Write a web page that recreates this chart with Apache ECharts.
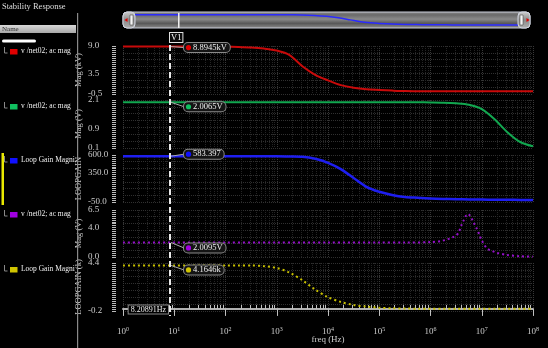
<!DOCTYPE html>
<html><head><meta charset="utf-8">
<script src="https://cdn.jsdelivr.net/npm/echarts@6/dist/echarts.min.js"></script>
<style>html,body{margin:0;padding:0;background:#000;}#c{width:548px;height:348px;}</style>
</head><body><div id="c"></div>
<script>
// ---------------- data ----------------
const freq = [1, 1.778, 3.162, 5.623, 10, 17.78, 31.62, 56.23, 100, 177.8, 316.2, 562.3,
  1000, 1778, 3162, 5623, 10000, 17783, 31623, 56234, 100000, 177828, 316228, 562341,
  1000000, 1778279, 3162278, 5623413, 10000000, 17782794, 31622777, 56234133, 100000000];
const redMag = [8.8945, 8.8945, 8.8945, 8.8944, 8.8943, 8.894, 8.893, 8.89, 8.87, 8.82, 8.72, 8.5,
  8.1, 7.2, 5.0, 3.3, 2.2, 1.25, 0.72, 0.43, 0.3, 0.18, 0.08, 0.04,
  0.03, 0.02, 0.02, 0.02, 0.02, 0.02, 0.02, 0.02, 0.02];
const greenMag = [2.0065, 2.0065, 2.0065, 2.0065, 2.0065, 2.0065, 2.0065, 2.0065, 2.0065, 2.0065, 2.0065, 2.0065,
  2.0065, 2.0065, 2.0065, 2.0065, 2.0065, 2.0065, 2.0065, 2.0065, 2.0065, 2.0065, 2.0065, 2.005,
  2.0, 1.99, 1.96, 1.9, 1.72, 1.3, 0.76, 0.35, 0.17];
const blueGain = [583.397, 583.397, 583.397, 583.397, 583.397, 583.397, 583.397, 583.397, 583.397, 583.397, 583.397, 583.3,
  583, 580, 575, 547, 492, 405, 282, 160, 92, 48, 20, 8,
  -2, -8, -12, -15, -17, -19, -20, -21, -22];
const yellowGain = [4.1646, 4.1646, 4.1646, 4.1646, 4.1646, 4.1646, 4.1646, 4.1646, 4.1646, 4.1646, 4.1646, 4.1,
  3.92, 3.48, 2.75, 1.85, 1.12, 0.67, 0.38, 0.22, 0.11, 0.06, 0.04, 0.02,
  0.02, 0.02, 0.02, 0.02, 0.02, 0.02, 0.02, 0.02, 0.02];
const purpleFreq = [1, 10, 100, 1000, 10000, 100000, 316228, 1000000, 1585000, 1995000, 2512000, 3162000,
  3548000, 3981000, 4467000, 5012000, 5370000, 5754000, 6310000, 7079000, 7943000, 8913000,
  10000000, 12590000, 15850000, 19950000, 31620000, 56230000, 100000000];
const purpleMag = [2.0095, 2.0095, 2.0095, 2.0095, 2.0095, 2.0095, 2.0, 2.06, 2.2, 2.38, 2.62, 3.0,
  3.4, 4.35, 5.1, 5.8, 5.95, 5.8, 5.35, 4.65, 3.95, 3.15,
  2.3, 1.2, 0.85, 0.57, 0.27, 0.11, 0.05];

const cursorFreq = 8.20891;
const cursorName = 'V1';
const cursorValues = [8.8945, 2.0065, 583.397, 2.0095, 4.1646];
const cursorLabels = ['8.8945kV', '2.0065V', '583.397', '2.0095V', '4.1646k'];

const legendNames = ['v /net02; ac mag', 'v /net02; ac mag', 'Loop Gain Magni', 'v /net02; ac mag', 'Loop Gain Magni'];
const yNames = ['Mag (kV)', 'Mag (V)', 'LOOPGAIN', 'Mag (V)', 'LOOPGAIN (k)'];
const yMins = [-0.5, 0.1, -50, 0.0, -0.2];
const yMaxs = [9.0, 2.1, 600, 6.5, 4.4];
const yMidLabels = [3.5, 0.9, 350, 4.0, null];
const xDecades = [1, 10, 100, 1e3, 1e4, 1e5, 1e6, 1e7, 1e8];
const titleText = 'Stability Response';
const xName = 'freq (Hz)';

// ---------------- layout / style ----------------
const FONT = 'Liberation Serif';
const seriesX = [freq, freq, freq, purpleFreq, freq];
const seriesY = [redMag, greenMag, blueGain, purpleMag, yellowGain];
const colors = ['#c80a0a', '#12a850', '#1e1ef0', '#9410c8', '#c8c000'];
const legendColors = ['#e00000', '#10c060', '#1010ff', '#a000e0', '#d0c400'];
const dotted = [false, false, false, true, true];
const panelTop = [46, 100, 155, 210, 263];
const panelH = [48, 48, 47, 47, 48];
const boxDy = [1, 4.5, -2, 5.5, 4.5];
const legendY = [52, 107, 161, 215, 270];

const minorX = [];
xDecades.slice(0, -1).forEach(d => { for (let k = 2; k <= 9; k++) minorX.push(d * k); });

function evenTicks(min, max, n) { const a = []; for (let i = 0; i <= n; i++) a.push(min + (max - min) * i / n); return a; }

const chart = echarts.init(document.getElementById('c'));
const grids = [], xAxes = [], yAxes = [], series = [];
for (let i = 0; i < 5; i++) {
  grids.push({ left: 123, width: 410, top: panelTop[i], height: panelH[i] });
  const last = i === 4;
  xAxes.push({
    type: 'log', gridIndex: i, min: 1, max: 1e8, offset: last ? 5 : 0,
    name: last ? xName : '', nameLocation: 'middle', nameGap: 19, nameMoveOverlap: false,
    nameTextStyle: { color: '#ccc', fontFamily: FONT, fontSize: 9 },
    axisLine: { show: last, lineStyle: { color: '#b0b0b0', width: 2 } },
    axisTick: { show: last, length: 7, customValues: xDecades, lineStyle: { color: '#c0c0c0' } },
    axisLabel: {
      show: last, customValues: xDecades, margin: 10, color: '#ccc',
      formatter: v => '10{s|' + Math.round(Math.log10(v)) + '}',
      rich: { s: { fontSize: 6, fontFamily: FONT, color: '#ccc', padding: [0, 0, 6, 0] } },
      fontFamily: FONT, fontSize: 9
    },
    splitLine: { show: true, lineStyle: { color: '#383838', type: 'dotted', width: 1 } }
  });
  xAxes.push({
    type: 'log', gridIndex: i, min: 1, max: 1e8, offset: last ? 5 : 0,
    axisLine: { show: false },
    axisTick: { show: last, length: 4, customValues: minorX, lineStyle: { color: '#c0c0c0' } },
    axisLabel: { show: false },
    splitLine: { show: true, lineStyle: { color: '#242424', type: 'dotted', width: 1 } }
  });
  const labs = [yMins[i], yMaxs[i]];
  if (yMidLabels[i] !== null) labs.splice(1, 0, yMidLabels[i]);
  yAxes.push({
    type: 'value', gridIndex: i, min: yMins[i], max: yMaxs[i], offset: 7,
    name: yNames[i], nameLocation: 'middle', nameGap: 33, nameMoveOverlap: false,
    nameTextStyle: { color: '#ccc', fontFamily: FONT, fontSize: 8.5 },
    axisLine: { show: false },
    axisTick: { show: true, length: 4, customValues: evenTicks(yMins[i], yMaxs[i], Math.round(panelH[i] / 2)), lineStyle: { color: '#bbb' } },
    axisLabel: { customValues: labs, margin: 28, align: 'left', color: '#ccc', fontFamily: FONT, fontSize: 9, formatter: v => v.toFixed(1) },
    splitLine: { show: false }
  });
  yAxes.push({
    type: 'value', gridIndex: i, min: yMins[i], max: yMaxs[i],
    axisLine: { show: false },
    axisTick: { show: false, customValues: evenTicks(yMins[i], yMaxs[i], 7) },
    axisLabel: { show: false },
    splitLine: { show: true, lineStyle: { color: '#303030', type: 'dotted', width: 1 } }
  });
  series.push({
    type: 'line', xAxisIndex: 2 * i, yAxisIndex: 2 * i, showSymbol: false, smooth: 0.3,
    data: seriesX[i].map((f, k) => [f, seriesY[i][k]]),
    lineStyle: dotted[i] ? { color: colors[i], width: 2, type: [2, 3] } : { color: colors[i], width: i === 2 ? 2.5 : 2 },
    z: 5
  });
}
// overview grid
grids.push({ left: 135, width: 383, top: 14.5, height: 11 });
xAxes.push({ type: 'log', gridIndex: 5, min: 1, max: 1e8, show: false, splitLine: { show: false } });
yAxes.push({ type: 'value', gridIndex: 5, min: -50, max: 600, show: false, splitLine: { show: false } });
series.push({ type: 'line', xAxisIndex: 10, yAxisIndex: 10, showSymbol: false, smooth: 0.3,
  data: freq.map((f, k) => [f, blueGain[k]]), lineStyle: { color: '#2a2aff', width: 1.5 }, z: 5 });

chart.setOption({
  backgroundColor: '#000', animation: false,
  grid: grids, xAxis: xAxes, yAxis: yAxes, series: series
});

// ---------------- graphics (positions via library conversion) ----------------
const g = [];
const txt = (x, y, text, o) => Object.assign({ type: 'text', x: x, y: y, z: 60,
  style: Object.assign({ text: text, fill: '#e0e0e0', font: '8px ' + FONT }, o || {}) });
// title & left panel
g.push(txt(2, 2, titleText, { font: '8.5px ' + FONT, fill: '#ddd' }));
g.push({ type: 'rect', shape: { x: 0, y: 25, width: 76, height: 8 }, style: { fill: new echarts.graphic.LinearGradient(0, 0, 0, 1, [{ offset: 0, color: '#d8d8d8' }, { offset: 1, color: '#a8a8a8' }]) }, z: 60 });
g.push(txt(2, 25.5, 'Name', { fill: '#333', font: '7px ' + FONT }));
g.push({ type: 'rect', shape: { x: 2, y: 39.5, width: 34, height: 3, r: 1.5 }, style: { fill: '#fff' }, z: 60 });
for (let i = 0; i < 5; i++) {
  const y = legendY[i];
  g.push({ type: 'polyline', shape: { points: [[4.5, y - 5], [4.5, y + 1], [7.5, y + 1]] }, style: { stroke: '#888', lineWidth: 1, fill: null }, z: 60 });
  g.push({ type: 'rect', shape: { x: 10, y: y - 3, width: 7.5, height: 5.5 }, style: { fill: legendColors[i] }, z: 60 });
  g.push(txt(21, y - 4.5, legendNames[i], { fill: '#f0f0f0', font: '7.5px ' + FONT }));
}
g.push({ type: 'rect', shape: { x: 1.5, y: 153, width: 2.5, height: 52 }, style: { fill: '#e8e800' }, z: 60 });
g.push({ type: 'rect', shape: { x: 77, y: 13, width: 1.2, height: 335 }, style: { fill: '#8a8a8a' }, z: 61 });

// overview scrollbar
g.push({ type: 'rect', shape: { x: 123, y: 12, width: 407, height: 16, r: 4 }, z: 1,
  style: { stroke: '#c8ccd8', lineWidth: 1, fill: new echarts.graphic.LinearGradient(0, 0, 0, 1, [
    { offset: 0, color: '#8c8c8c' }, { offset: 0.2, color: '#6a6a6a' }, { offset: 0.45, color: '#8a8a8a' },
    { offset: 0.7, color: '#585858' }, { offset: 1, color: '#909090' }]) } });
[[123, 12], [518, 12]].forEach(p => {
  g.push({ type: 'rect', shape: { x: p[0], y: p[1], width: 12, height: 16, r: 4 }, z: 10,
    style: { stroke: '#d0d4e0', lineWidth: 1, fill: new echarts.graphic.LinearGradient(0, 0, 0, 1, [
      { offset: 0, color: '#d0d0d0' }, { offset: 0.5, color: '#8a8a8a' }, { offset: 1, color: '#b0b0b0' }]) } });
});
g.push({ type: 'rect', shape: { x: 130, y: 15, width: 3, height: 10 }, style: { fill: '#f4f4f4', stroke: '#333', lineWidth: 0.5 }, z: 11 });
g.push({ type: 'rect', shape: { x: 520, y: 15, width: 3, height: 10 }, style: { fill: '#f4f4f4', stroke: '#333', lineWidth: 0.5 }, z: 11 });
g.push({ type: 'polygon', shape: { points: [[124.5, 20], [127.5, 18], [127.5, 22]] }, style: { fill: '#e00000' }, z: 11 });
g.push({ type: 'polygon', shape: { points: [[529.5, 20], [526.5, 18], [526.5, 22]] }, style: { fill: '#e00000' }, z: 11 });
const ovX = chart.convertToPixel({ seriesIndex: 5 }, [cursorFreq, 0])[0];
g.push({ type: 'line', shape: { x1: ovX, y1: 13, x2: ovX, y2: 28 }, style: { stroke: '#f0f0f0', lineWidth: 1.5 }, z: 12 });

// cursor
const cx = Math.round(chart.convertToPixel({ seriesIndex: 0 }, [cursorFreq, 0])[0]);
g.push({ type: 'line', shape: { x1: cx, y1: 36, x2: cx, y2: 316 }, style: { stroke: '#e8e8e8', lineWidth: 2, lineDash: [6, 3] }, z: 50 });
g.push(txt(cx, 33, cursorName, { font: '8.5px ' + FONT, fill: '#fff', backgroundColor: '#0a0a0a', borderColor: '#e0e0e0', borderWidth: 1, padding: [0, 1, 0, 1] }));
g.push(txt(cx - 2, 305.5, cursorFreq + 'Hz', { align: 'right', font: '8px ' + FONT, fill: '#f0f0f0', backgroundColor: '#000', borderColor: '#888', borderWidth: 1, padding: [0, 2, 0, 2] }));
for (let i = 0; i < 5; i++) {
  const p = chart.convertToPixel({ seriesIndex: i }, [cursorFreq, cursorValues[i]]);
  const by = p[1] + boxDy[i];
  g.push({ type: 'line', shape: { x1: cx + 1, y1: p[1], x2: cx + 14, y2: by }, style: { stroke: '#aaa', lineWidth: 1 }, z: 55 });
  g.push(txt(cx + 14, by, cursorLabels[i], { verticalAlign: 'middle', font: '8.5px ' + FONT, fill: '#f0f0f0', backgroundColor: '#141414', borderColor: '#8a8a8a', borderWidth: 1, borderRadius: 4, padding: [0, 3, 0, 9] }));
  g.push({ type: 'circle', shape: { cx: cx + 18.5, cy: by, r: 2.6 }, style: { fill: legendColors[i] }, z: 62 });
}
chart.setOption({ graphic: g });
</script>
</body></html>
